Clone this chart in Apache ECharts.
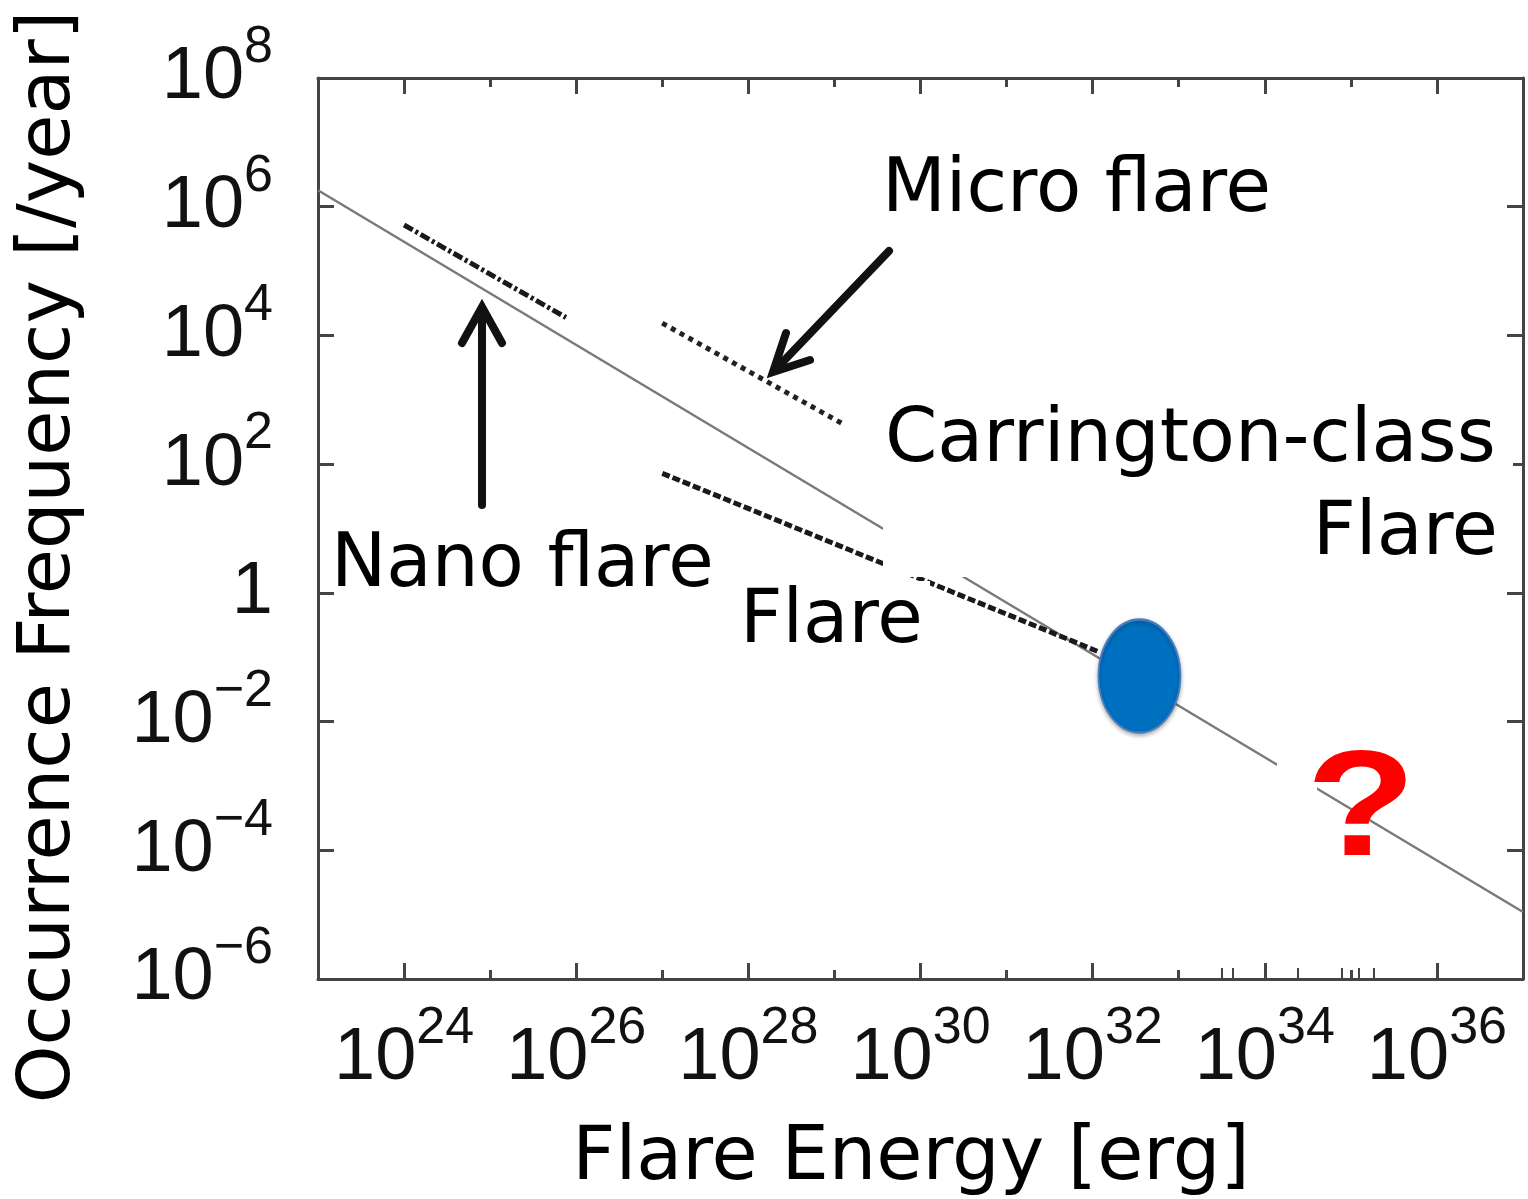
<!DOCTYPE html>
<html><head><meta charset="utf-8">
<script src="https://cdn.jsdelivr.net/npm/echarts@6/dist/echarts.min.js"></script>
<style>html,body{margin:0;padding:0;background:#fff}#c{width:1528px;height:1199px}</style>
</head><body><div id="c"></div>
<script>
// ---- data ----
const majorX = [1e24, 1e26, 1e28, 1e30, 1e32, 1e34, 1e36];
const minorX = [1e25, 1e27, 1e29, 1e31, 1e33, 1e35];
const extraX = [3.2e33, 4.2e33, 2.4e34, 7.8e34, 1.23e35, 1.86e35];
const majorY = [1e-6, 1e-4, 1e-2, 1, 1e2, 1e4, 1e6, 1e8];
const powerLaw = [[1e23, 1.8e6], [1e37, 1.1e-5]];
const nanoFlare = [[1e24, 5.2e5], [7.6e25, 1.9e4]];
const microFlare = [[1e27, 1.55e4], [1.26e29, 4.2e2]];
const flare = [[1e27, 72], [1.2e32, 0.12]];
const carrington = [[3.5e32, 0.051]];

const AX = '#444';
const TICKFONT = '"Liberation Sans Narrow", "Liberation Sans", Arial, sans-serif';
const QFONT = '"Liberation Sans", Arial, sans-serif';
const TXTFONT = '"DejaVu Sans", sans-serif';

function powLabel(v) {
  const e = Math.round(Math.log10(v));
  if (e === 0) return '{b|1}';
  return '{b|10}{s|' + (e < 0 ? '\u2212' + (-e) : e) + '}';
}
const rich = {
  b: { fontSize: 74, lineHeight: 76, fontFamily: TICKFONT, color: '#111' },
  s: { fontSize: 52, lineHeight: 52, fontFamily: TICKFONT, color: '#111', padding: [0, 0, 60, 0] }
};
function axis(extra) {
  return Object.assign({
    type: 'log', logBase: 10,
    splitLine: { show: false }, minorTick: { show: false }, minorSplitLine: { show: false }
  }, extra);
}
function ticks(vals, len, w) {
  return { show: true, inside: true, length: len, customValues: vals, lineStyle: { color: AX, width: w || 3 } };
}
const xr = { min: 1e23, max: 1e37, gridIndex: 0 };
const yr = { min: 1e-6, max: 1e8, gridIndex: 0 };

const chart = echarts.init(document.getElementById('c'), null, { renderer: 'canvas' });
chart.setOption({
  animation: false,
  backgroundColor: '#fff',
  grid: { left: 318, right: 5, top: 78, height: 901, containLabel: false },
  xAxis: [
    axis(Object.assign({}, xr, {
      position: 'bottom',
      axisLine: { show: true, lineStyle: { color: AX, width: 3 } },
      axisTick: ticks(majorX, 16),
      axisLabel: { show: true, customValues: majorX, formatter: powLabel, rich: rich, margin: 42 }
    })),
    axis(Object.assign({}, xr, { position: 'bottom', axisLine: { show: false }, axisTick: ticks(minorX, 9), axisLabel: { show: false } })),
    axis(Object.assign({}, xr, { position: 'bottom', axisLine: { show: false }, axisTick: ticks(extraX, 11, 2), axisLabel: { show: false } })),
    axis(Object.assign({}, xr, {
      position: 'top',
      axisLine: { show: true, lineStyle: { color: AX, width: 3 } },
      axisTick: ticks(majorX, 16), axisLabel: { show: false }
    })),
    axis(Object.assign({}, xr, { position: 'top', axisLine: { show: false }, axisTick: ticks(minorX, 9), axisLabel: { show: false } }))
  ],
  yAxis: [
    axis(Object.assign({}, yr, {
      position: 'left',
      axisLine: { show: true, lineStyle: { color: AX, width: 3 } },
      axisTick: ticks(majorY, 16),
      axisLabel: { show: true, customValues: majorY, formatter: powLabel, rich: rich, margin: 45 }
    })),
    axis(Object.assign({}, yr, {
      position: 'right',
      axisLine: { show: true, lineStyle: { color: AX, width: 3 } },
      axisTick: ticks(majorY, 16), axisLabel: { show: false }
    }))
  ],
  series: [
    { name: 'Power law', type: 'line', data: powerLaw, showSymbol: false, symbol: 'none',
      lineStyle: { color: '#7a7a7a', width: 2.5 }, z: 2 },
    { name: 'Nano flare', type: 'line', data: nanoFlare, showSymbol: false, symbol: 'none',
      lineStyle: { color: '#1a1a1a', width: 5, type: [10, 3, 3, 3] }, z: 3 },
    { name: 'Micro flare', type: 'line', data: microFlare, showSymbol: false, symbol: 'none',
      lineStyle: { color: '#222', width: 5, type: [5, 5] }, z: 3 },
    { name: 'Flare', type: 'line', data: flare, showSymbol: false, symbol: 'none',
      lineStyle: { color: '#1a1a1a', width: 5, type: [8, 3] }, z: 3 },
    { name: 'Carrington', type: 'scatter', data: carrington, symbol: 'circle', symbolSize: [82, 113],
      itemStyle: { color: '#0070C0', borderColor: '#4a7cc0', borderWidth: 2, opacity: 1,
        shadowBlur: 4, shadowColor: 'rgba(0,0,0,0.3)', shadowOffsetY: 2 }, z: 5 }
  ],
  graphic: { elements: [
    { type: 'rect', z: 100, shape: { x: 883, y: 398, width: 630, height: 179 }, style: { fill: '#fff' } },
    { type: 'rect', z: 100, shape: { x: 740, y: 581, width: 190, height: 70 }, style: { fill: '#fff' } },
    { type: 'rect', z: 100, shape: { x: 1277, y: 758, width: 40, height: 36 }, style: { fill: '#fff' } },
    { type: 'polyline', z: 101, shape: { points: [[482, 505], [482, 310]] }, style: { stroke: '#111', lineWidth: 8, lineCap: 'round' } },
    { type: 'polyline', z: 101, shape: { points: [[462, 343], [482, 307], [502, 343]] }, style: { stroke: '#111', fill: null, lineWidth: 8, lineCap: 'round', lineJoin: 'miter' } },
    { type: 'polyline', z: 101, shape: { points: [[889, 251], [776, 369]] }, style: { stroke: '#111', lineWidth: 8, lineCap: 'round' } },
    { type: 'polyline', z: 101, shape: { points: [[786, 333], [773, 372], [810, 360]] }, style: { stroke: '#111', fill: null, lineWidth: 8, lineCap: 'round', lineJoin: 'miter' } },
    { type: 'text', z: 102, x: 882, y: 192, style: { text: 'Micro flare', font: '74px ' + TXTFONT, fill: '#000', align: 'left', verticalAlign: 'middle' } },
    { type: 'text', z: 102, x: 885, y: 442, style: { text: 'Carrington-class', font: '75px ' + TXTFONT, fill: '#000', align: 'left', verticalAlign: 'middle' } },
    { type: 'text', z: 102, x: 1498, y: 535, style: { text: 'Flare', font: '75px ' + TXTFONT, fill: '#000', align: 'right', verticalAlign: 'middle' } },
    { type: 'text', z: 102, x: 331, y: 567, style: { text: 'Nano flare', font: '74px ' + TXTFONT, fill: '#000', align: 'left', verticalAlign: 'middle' } },
    { type: 'text', z: 102, x: 740, y: 623, style: { text: 'Flare', font: '74px ' + TXTFONT, fill: '#000', align: 'left', verticalAlign: 'middle' } },
    { type: 'text', z: 102, x: 1361, y: 814, scaleX: 1.2, style: { text: '?', font: 'bold 150px ' + QFONT, fill: '#ff0000', align: 'center', verticalAlign: 'middle' } },
    { type: 'text', z: 102, x: 911, y: 1160, style: { text: 'Flare Energy [erg]', font: '75px ' + TXTFONT, fill: '#000', align: 'center', verticalAlign: 'middle' } },
    { type: 'text', z: 102, x: 50, y: 557, rotation: Math.PI / 2, style: { text: 'Occurrence Frequency [/year]', font: '73.5px ' + TXTFONT, fill: '#000', align: 'center', verticalAlign: 'middle' } }
  ] }
});
</script>
</body></html>
